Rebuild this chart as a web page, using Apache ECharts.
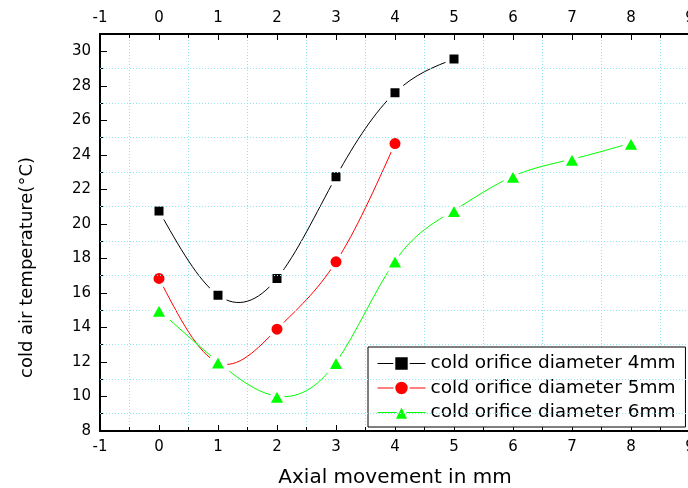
<!DOCTYPE html>
<html>
<head>
<meta charset="utf-8">
<script src="https://cdn.jsdelivr.net/npm/echarts@6/dist/echarts.min.js"></script>
<style>
html,body{margin:0;padding:0;background:#fff;}
#chart{width:688px;height:488px;}
</style>
</head>
<body>
<div id="chart"></div>
<script>
const xValues = [0, 1, 2, 3, 4, 5, 6, 7, 8];
const d4mm = [20.75, 15.87, 16.84, 22.73, 27.6, 29.55];
const d5mm = [16.84, 11.96, 13.9, 17.8, 24.65];
const d6mm = [15.0, 12.0, 10.02, 11.98, 17.85, 20.78, 22.76, 23.75, 24.68];
const seriesNames = ['cold orifice diameter 4mm', 'cold orifice diameter 5mm', 'cold orifice diameter 6mm'];
const seriesColors = ['#000000', '#ff0000', '#00ff00'];
const yGridValues = [9, 11, 13, 15, 17, 19, 21, 23, 25, 27, 29];
const xName = 'Axial movement in mm';
const yName = 'cold air temperature(°C)';

const FONT = 'DejaVu Sans';
const gridColor = '#8fe8ee';

function pairs(arr) { return arr.map((v, i) => [xValues[i], v]); }

// natural cubic spline second derivatives (rendering of the connecting curve only)
function splineM(pts) {
  const n = pts.length;
  const M = new Array(n).fill(0);
  if (n < 3) return M;
  const a = [], b = [], c = [], d = [];
  for (let i = 1; i < n - 1; i++) {
    const h0 = pts[i][0] - pts[i - 1][0], h1 = pts[i + 1][0] - pts[i][0];
    a.push(h0); b.push(2 * (h0 + h1)); c.push(h1);
    d.push(6 * ((pts[i + 1][1] - pts[i][1]) / h1 - (pts[i][1] - pts[i - 1][1]) / h0));
  }
  const m = b.length;
  for (let i = 1; i < m; i++) {
    const w = a[i] / b[i - 1];
    b[i] -= w * c[i - 1];
    d[i] -= w * d[i - 1];
  }
  const x = new Array(m);
  x[m - 1] = d[m - 1] / b[m - 1];
  for (let i = m - 2; i >= 0; i--) x[i] = (d[i] - c[i] * x[i + 1]) / b[i];
  for (let i = 0; i < m; i++) M[i + 1] = x[i];
  return M;
}

function curveSeries(values, color) {
  const pts = pairs(values);
  const M = splineM(pts);
  return {
    type: 'custom', silent: true, z: 2, data: pts,
    encode: {x: 0, y: 1},
    renderItem: function (params, api) {
      const i = params.dataIndex;
      if (i >= pts.length - 1) return null;
      const x0 = pts[i][0], y0 = pts[i][1], x1 = pts[i + 1][0], y1 = pts[i + 1][1];
      const h = x1 - x0;
      const s0 = (y1 - y0) / h - h * (2 * M[i] + M[i + 1]) / 6;
      const s1 = (y1 - y0) / h + h * (M[i] + 2 * M[i + 1]) / 6;
      const p0 = api.coord([x0, y0]);
      const p1 = api.coord([x1, y1]);
      const c0 = api.coord([x0 + h / 3, y0 + s0 * h / 3]);
      const c1 = api.coord([x1 - h / 3, y1 - s1 * h / 3]);
      return {
        type: 'bezierCurve',
        shape: {x1: p0[0], y1: p0[1], x2: p1[0], y2: p1[1], cpx1: c0[0], cpy1: c0[1], cpx2: c1[0], cpy2: c1[1]},
        style: {stroke: color, fill: null, lineWidth: 1}
      };
    }
  };
}

const chart = echarts.init(document.getElementById('chart'), null, {renderer: 'canvas'});

const xAxisBase = {
  type: 'value', min: -1, max: 9, interval: 1,
  axisLine: {show: true, onZero: false, lineStyle: {color: '#000', width: 2}},
  axisTick: {show: true, inside: true, length: 6, lineStyle: {color: '#000', width: 1}},
  minorTick: {show: true, splitNumber: 2, length: 4, lineStyle: {color: '#000', width: 1}},
  splitLine: {show: false},
  axisLabel: {color: '#000', fontFamily: FONT, fontSize: 15, margin: 9, showMaxLabel: true, showMinLabel: true, hideOverlap: false}
};

const symbols = ['rect', 'circle', 'triangle'];
const symbolSizes = [13, 15, [19, 17]];
const dataSets = [d4mm, d5mm, d6mm];

const lineSeries = dataSets.map((vals, k) => ({
  name: seriesNames[k], type: 'line', data: pairs(vals),
  symbol: symbols[k], symbolSize: symbolSizes[k],
  lineStyle: {color: seriesColors[k], width: 1, opacity: 0},
  itemStyle: {color: seriesColors[k], borderColor: '#fff', borderWidth: 4, borderJoin: 'round'},
  z: 3 + k
}));
const curves = dataSets.map((vals, k) => curveSeries(vals, seriesColors[k]));

const option = {
  animation: false,
  backgroundColor: '#fff',
  grid: {left: 100, right: -2, top: 34, bottom: 57, containLabel: false, outerBoundsMode: 'none'},
  xAxis: [
    Object.assign({}, xAxisBase, {
      position: 'bottom',
      name: xName, nameLocation: 'middle', nameGap: 37,
      nameTextStyle: {color: '#000', fontFamily: FONT, fontSize: 20},
      minorSplitLine: {show: true, lineStyle: {color: gridColor, width: 1, type: [1, 2]}}
    }),
    Object.assign({}, xAxisBase, {position: 'top', axisLabel: Object.assign({}, xAxisBase.axisLabel, {margin: 8}), minorSplitLine: {show: false}})
  ],
  yAxis: [
    {
      type: 'value', min: 8, max: 31, interval: 2, position: 'left',
      axisLine: {show: true, onZero: false, lineStyle: {color: '#000', width: 2}},
      axisTick: {show: true, inside: true, length: 7, lineStyle: {color: '#000', width: 1}},
      splitLine: {show: false},
      axisLabel: {color: '#000', fontFamily: FONT, fontSize: 15, margin: 9, showMaxLabel: false},
      name: yName, nameLocation: 'middle', nameGap: 64, nameRotate: 90,
      nameTextStyle: {color: '#000', fontFamily: FONT, fontSize: 18, padding: [0, 70, 0, 0]}
    },
    {
      type: 'value', min: 8, max: 31, interval: 1, position: 'left',
      axisLine: {show: false, onZero: false},
      axisTick: {show: true, inside: true, length: 4, lineStyle: {color: '#000', width: 1}},
      splitLine: {show: false},
      axisLabel: {show: false}
    }
  ],
  legend: {
    orient: 'vertical', left: 368, top: 347,
    data: seriesNames,
    backgroundColor: '#fff', borderColor: '#000', borderWidth: 1,
    padding: [7, 10, 5, 9],
    itemWidth: 48, itemHeight: 18, itemGap: 5.5,
    itemStyle: {borderColor: '#fff', borderWidth: 2},
    lineStyle: {opacity: 1, width: 1},
    textStyle: {color: '#000', fontFamily: FONT, fontSize: 18.5, padding: [0, 0, 0, 0]}
  },
  series: [
    {
      type: 'line', data: [], z: 1, silent: true,
      markLine: {
        silent: true, symbol: ['none', 'none'], label: {show: false},
        lineStyle: {color: gridColor, width: 1, type: [1, 2]},
        emphasis: {disabled: true},
        data: yGridValues.map(v => ({yAxis: v}))
      }
    }
  ].concat(curves, lineSeries)
};
chart.setOption(option);
</script>
</body>
</html>
